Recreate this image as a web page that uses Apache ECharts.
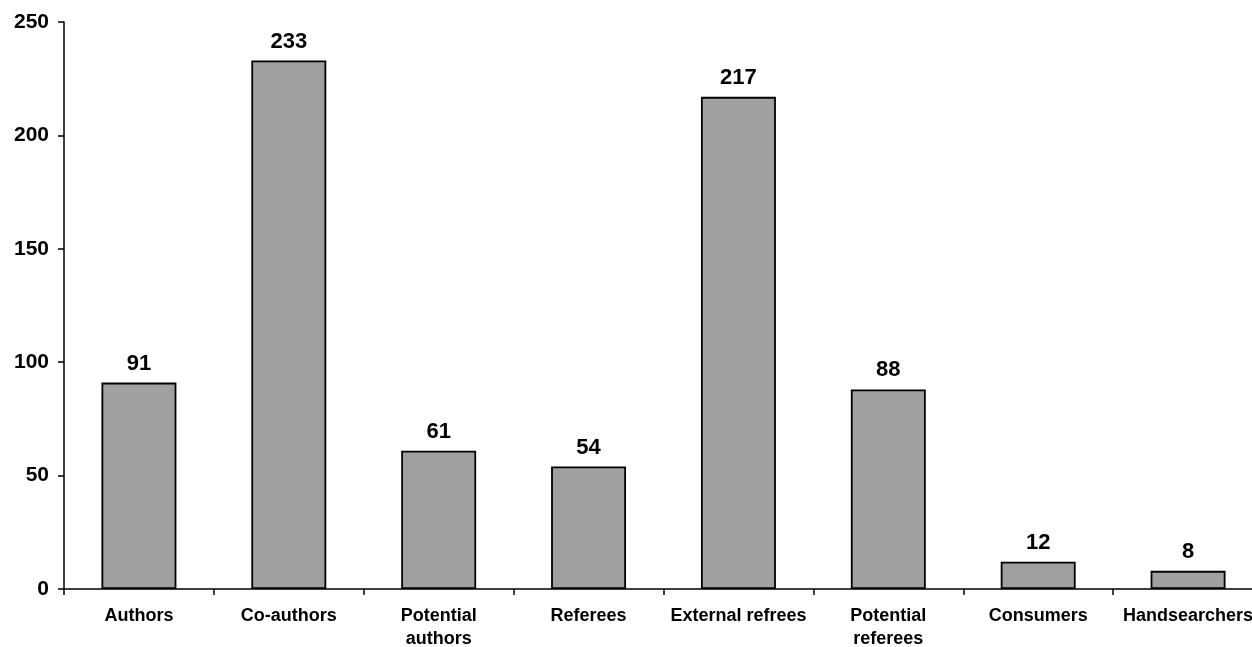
<!DOCTYPE html>
<html><head><meta charset="utf-8">
<script src="https://cdn.jsdelivr.net/npm/echarts@6/dist/echarts.min.js"></script>
<style>html,body{margin:0;padding:0;background:#fff}#c{width:1252px;height:647px}</style>
</head><body><div id="c"></div>
<script>
const categories = ["Authors","Co-authors","Potential\nauthors","Referees","External refrees","Potential\nreferees","Consumers","Handsearchers"];
const values = [91,233,61,54,217,88,12,8];
const chart = echarts.init(document.getElementById('c'));
const font = '"Liberation Sans", Arial, sans-serif';
chart.setOption({
  animation:false,
  grid:{left:64,right:-11,top:22,bottom:58,containLabel:false,outerBoundsMode:'none'},
  xAxis:{type:'category',data:categories,
    axisLine:{lineStyle:{color:'#000',width:1.5}},
    axisTick:{show:true,alignWithLabel:false,length:6,lineStyle:{color:'#000',width:1.5}},
    axisLabel:{color:'#000',fontFamily:font,fontWeight:'bold',fontSize:18,margin:16,lineHeight:23,interval:0},
    splitLine:{show:false}},
  yAxis:{type:'value',min:0,max:250,interval:50,
    axisLine:{show:true,lineStyle:{color:'#000',width:1.5}},
    axisTick:{show:true,length:6,lineStyle:{color:'#000',width:1.5}},
    axisLabel:{color:'#000',fontFamily:font,fontWeight:'bold',fontSize:21,margin:15},
    splitLine:{show:false}},
  series:[{type:'bar',data:values,barWidth:'50%',
    itemStyle:{color:'#a0a0a0',borderColor:'#000',borderWidth:1.8},
    label:{show:true,position:'top',distance:8,color:'#000',fontFamily:font,fontWeight:'bold',fontSize:22}}]
});
</script></body></html>
